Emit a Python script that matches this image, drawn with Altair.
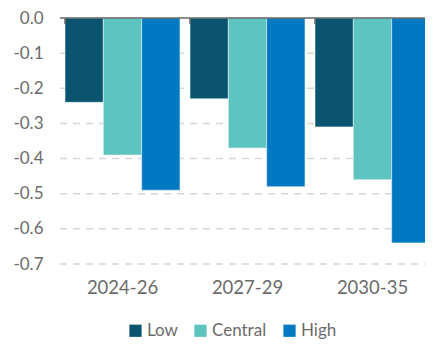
import altair as alt
import pandas as pd

periods = ["2024-26", "2027-29", "2030-35"]
scenarios = ["Low", "Central", "High"]
low = [-0.24, -0.23, -0.31]
central = [-0.39, -0.37, -0.46]
high = [-0.49, -0.48, -0.64]
colors = ["#0B5470", "#5EC4C0", "#0078C2"]
y_ticks = [0.0, -0.1, -0.2, -0.3, -0.4, -0.5, -0.6, -0.7]
grid_vals = [-0.1, -0.2, -0.3, -0.4, -0.5, -0.6, -0.7]

rows = []
for s, vals in zip(scenarios, [low, central, high]):
    for p, v in zip(periods, vals):
        rows.append({"period": p, "scenario": s, "value": v})
df = pd.DataFrame(rows)

FONT = "Lato"
TXT = "#6b6b6b"
FULL_W = 375  # plot extends past the visible window on the right

xscale = alt.Scale(domain=periods, range=[0, FULL_W], paddingInner=0.08, paddingOuter=0.04)
yscale = alt.Scale(domain=[-0.7, 0], nice=False)

xaxis = alt.Axis(title=None, labelAngle=0, domain=False, ticks=False,
                 labelFontSize=18.5, labelColor=TXT, labelFont=FONT, labelPadding=14)
yaxis = alt.Axis(title=None, values=y_ticks, domain=False, ticks=False, grid=False,
                 labelExpr="replace(format(datum.value, '.1f'), '\u2212', '-')",
                 labelOverlap=False,
                 labelFontSize=17, labelColor=TXT, labelFont=FONT, labelPadding=17)

grid_df = pd.DataFrame({"value": grid_vals})
grid = alt.Chart(grid_df).mark_rule(color="#d6d6d6", strokeWidth=1.5, strokeDash=[7, 6]).encode(
    y=alt.Y("value:Q", scale=yscale, axis=yaxis),
    x=alt.value(0), x2=alt.value(FULL_W),
)

bars = alt.Chart(df).mark_bar(stroke="#e6f2f5", strokeWidth=0.6).encode(
    x=alt.X("period:N", scale=xscale, sort=periods, axis=xaxis),
    xOffset=alt.XOffset("scenario:N", sort=scenarios,
                        scale=alt.Scale(domain=scenarios, paddingInner=0, paddingOuter=0)),
    y=alt.Y("value:Q", scale=yscale, axis=yaxis),
    color=alt.Color("scenario:N", sort=scenarios,
                    scale=alt.Scale(domain=scenarios, range=colors),
                    legend=alt.Legend(title=None, orient="none", direction="horizontal",
                                      legendX=67, legendY=304,
                                      symbolType="square", symbolSize=150, symbolStrokeWidth=0,
                                      labelFontSize=17, labelColor=TXT, labelFont=FONT,
                                      labelOffset=3, columnPadding=14)),
)

zero_df = pd.DataFrame({"value": [0.0]})
zero = alt.Chart(zero_df).mark_rule(color="#666666", strokeWidth=1.5).encode(
    y=alt.Y("value:Q", scale=yscale, axis=yaxis),
    x=alt.value(0), x2=alt.value(FULL_W),
)

tick_df = pd.DataFrame({"period": periods, "value": [0.0] * 3, "b": [-0.017] * 3})
ticks = alt.Chart(tick_df).mark_rule(color="#666666", strokeWidth=1.5).encode(
    x=alt.X("period:N", scale=xscale, sort=periods, bandPosition=0, axis=xaxis),
    y=alt.Y("value:Q", scale=yscale, axis=yaxis),
    y2="b:Q",
)

chart = alt.layer(grid, bars, zero, ticks).properties(
    width=365, height=246,
    autosize=alt.AutoSizeParams(type="none"),
    padding={"left": 52, "top": 10, "right": 0, "bottom": 75},
).configure(font=FONT).configure_view(stroke=None)

chart.save("out.html", embed_options={"renderer": "svg", "actions": False})
